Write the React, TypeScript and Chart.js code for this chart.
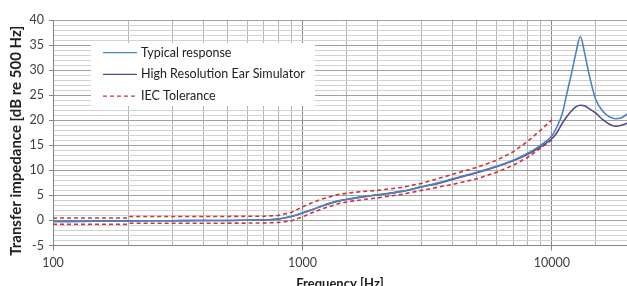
import React, { useEffect, useRef } from 'react';
import { Chart, registerables } from 'chart.js';
Chart.register(...registerables);

// ---- data ----
const freqs = [100, 150, 200, 300, 400, 500, 600, 700, 800, 900, 1000, 1100, 1200, 1400, 1600, 1800, 2000, 2500, 3000, 3500, 4000, 5000, 6000, 7000, 8000, 9000, 10000, 10500, 11000, 11500, 12000, 12500, 13000, 13500, 14000, 14500, 15000, 16000, 17000, 18000, 19000, 20000];
const typicalResponse = [-0.2, -0.15, -0.1, -0.05, 0, 0, 0.05, 0.1, 0.3, 0.8, 1.5, 2.2, 2.9, 3.9, 4.4, 4.8, 5.1, 5.8, 6.7, 7.5, 8.3, 9.6, 10.8, 12.0, 13.4, 15.0, 16.9, 18.8, 21.3, 25.5, 29.5, 33.6, 36.7, 33.6, 29.8, 26.6, 24.1, 21.8, 20.7, 20.3, 20.5, 21.2];
const hresSimulator = [-0.2, -0.15, -0.1, -0.05, 0, 0, 0.05, 0.1, 0.3, 0.8, 1.5, 2.2, 2.9, 3.9, 4.4, 4.8, 5.1, 5.8, 6.7, 7.4, 8.2, 9.5, 10.7, 11.9, 13.2, 14.7, 16.3, 17.6, 19.4, 20.8, 21.9, 22.7, 23.0, 22.9, 22.4, 21.9, 21.4, 20.1, 19.2, 18.8, 19.0, 19.4];
const tolFreqs = [100, 199, 201, 300, 500, 700, 800, 900, 1000, 1100, 1200, 1400, 1600, 2000, 2500, 3000, 4000, 5000, 6000, 7000, 8000, 9000, 10000];
const tolUpper = [0.5, 0.5, 0.8, 0.8, 0.8, 0.85, 1.0, 1.6, 2.7, 3.6, 4.3, 5.2, 5.6, 6.0, 6.6, 7.4, 9.2, 10.6, 12.0, 13.7, 15.8, 18.0, 20.1];
const tolLower = [-0.75, -0.75, -0.55, -0.55, -0.55, -0.5, -0.4, -0.1, 0.7, 1.6, 2.3, 3.4, 3.9, 4.5, 5.2, 6.0, 7.2, 8.3, 9.6, 11.0, 12.6, 14.4, 16.1];
const xTickLabels = [100, 1000, 10000];
const yTickStep = 5;

const seriesLabels = ['Typical response', 'High Resolution Ear Simulator', 'IEC Tolerance'];
const yTitle = 'Transfer impedance [dB re 500 Hz]';
const xTitle = 'Frequency [Hz]';
const colTypical = '#4F81BD';
const colHres = '#55498C';
const colTol = '#C8383A';

const FONT = 'Lato, "Open Sans", sans-serif';

const legendPlugin = {
  id: 'insideLegend',
  afterDraw(chart: any) {
    const { ctx, chartArea } = chart;
    const bx = chartArea.left + 38;
    const by = chartArea.top + 23;
    const bw = 224;
    const bh = 63;
    ctx.save();
    ctx.fillStyle = '#ffffff';
    ctx.fillRect(bx, by, bw, bh);
    const items = chart.data.datasets.filter((d: any) => d.label);
    items.forEach((d: any, i: number) => {
      const y = by + 9.7 + i * 21.7;
      ctx.beginPath();
      ctx.strokeStyle = d.borderColor;
      ctx.lineWidth = 1.2;
      ctx.setLineDash(d.borderDash || []);
      ctx.moveTo(bx + 12, y);
      ctx.lineTo(bx + 46, y);
      ctx.stroke();
      ctx.setLineDash([]);
      ctx.fillStyle = '#222222';
      ctx.font = '12.5px ' + FONT;
      ctx.textBaseline = 'middle';
      ctx.textAlign = 'left';
      ctx.fillText(d.label, bx + 50, y);
    });
    // y axis title
    ctx.translate(16, (chartArea.top + chartArea.bottom) / 2 + 8);
    ctx.rotate(-Math.PI / 2);
    ctx.font = 'bold 15px ' + FONT;
    ctx.fillStyle = '#202020';
    ctx.textAlign = 'center';
    ctx.textBaseline = 'middle';
    ctx.fillText(yTitle, 0, 0);
    ctx.restore();
  },
};

export default function App() {
  const ref = useRef<HTMLCanvasElement>(null);
  useEffect(() => {
    if (!ref.current) return;
    const pts = (xs: number[], ys: number[]) => xs.map((x, i) => ({ x, y: ys[i] }));
    const chart = new Chart(ref.current, {
      type: 'line',
      data: {
        datasets: [
          { label: seriesLabels[0], data: pts(freqs, typicalResponse), borderColor: colTypical, borderWidth: 1.6, pointRadius: 0, cubicInterpolationMode: 'monotone', order: 1 },
          { label: seriesLabels[1], data: pts(freqs, hresSimulator), borderColor: colHres, borderWidth: 1.6, pointRadius: 0, cubicInterpolationMode: 'monotone', order: 2 },
          { label: seriesLabels[2], data: pts(tolFreqs, tolUpper), borderColor: colTol, borderDash: [4, 3], borderWidth: 1.6, pointRadius: 0, tension: 0, order: 3 },
          { label: '', data: pts(tolFreqs, tolLower), borderColor: colTol, borderDash: [4, 3], borderWidth: 1.6, pointRadius: 0, tension: 0, order: 3 },
        ],
      },
      options: {
        animation: false,
        responsive: false,
        maintainAspectRatio: false,
        layout: { padding: { top: 20, right: 0, left: 0, bottom: 0 } },
        plugins: { legend: { display: false }, tooltip: { enabled: false } },
        scales: {
          x: {
            type: 'logarithmic',
            min: 100,
            max: 20000,
            afterFit: (s: any) => { s.height = 46.5; s.paddingLeft = 0; s.paddingRight = 0; },
            ticks: {
              autoSkip: false,
              maxRotation: 0,
              minRotation: 0,
              padding: 5,
              color: '#404040',
              font: { family: FONT, size: 12.5 },
              callback: (v: any) => (xTickLabels.includes(Number(v)) ? String(v) : ''),
            },
            grid: {
              color: (c: any) => (c.tick && xTickLabels.includes(c.tick.value) ? '#868686' : '#b3b3b3'),
              tickLength: 5,
              tickColor: (c: any) => (c.tick && xTickLabels.includes(c.tick.value) ? '#868686' : 'rgba(0,0,0,0)'),
            },
            border: { color: '#868686' },
            title: {
              display: true,
              text: xTitle,
              color: '#202020',
              font: { family: FONT, size: 13, weight: 'bold' },
              padding: 0,
            },
          },
          y: {
            type: 'linear',
            min: -5,
            max: 40,
            afterFit: (s: any) => { s.width = 53; },
            ticks: {
              stepSize: 1,
              autoSkip: false,
              padding: 5,
              color: '#404040',
              font: { family: FONT, size: 12.5 },
              callback: (v: any) => (Number(v) % yTickStep === 0 ? String(v) : ''),
            },
            grid: {
              color: (c: any) => (c.tick && c.tick.value % yTickStep === 0 ? '#a0a0a0' : '#d2d2d2'),
              tickLength: 4,
              tickColor: (c: any) => (c.tick && c.tick.value % yTickStep === 0 ? '#868686' : 'rgba(0,0,0,0)'),
            },
            border: { color: '#868686' },
            title: { display: false, text: yTitle },
          },
        },
      },
      plugins: [legendPlugin],
    } as any);
    return () => chart.destroy();
  }, []);
  return (
    <div style={{ position: 'fixed', left: 0, top: 0, width: 627, height: 286, overflow: 'hidden', background: '#fff' }}>
      <canvas ref={ref} width={627} height={292} style={{ display: 'block', width: 627, height: 292 }} />
    </div>
  );
}
